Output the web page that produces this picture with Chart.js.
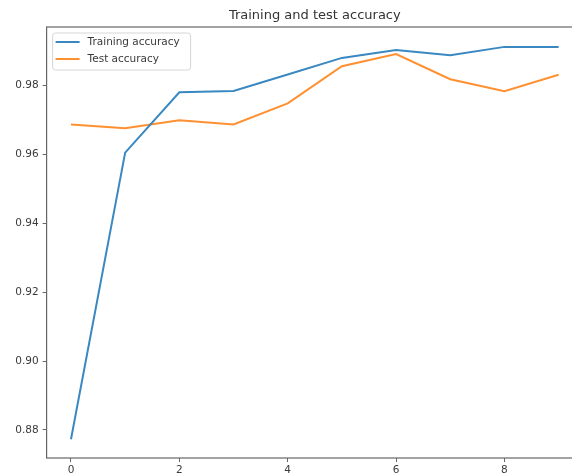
<!DOCTYPE html>
<html>
<head>
<meta charset="utf-8">
<script src="https://cdn.jsdelivr.net/npm/chart.js@4.4.1/dist/chart.umd.min.js"></script>
<style>
    body { margin: 0; background: #fff; }
    #wrap { width: 572px; height: 476px; overflow: hidden; }
</style>
</head>
<body>
<div id="wrap"><canvas id="myChart" width="600" height="476"></canvas></div>
<script>
const epochs = [0, 1, 2, 3, 4, 5, 6, 7, 8, 9];
const trainAcc = [0.8773, 0.9605, 0.9780, 0.9784, 0.9832, 0.9880, 0.9903, 0.9888, 0.9912, 0.9912];
const testAcc = [0.9687, 0.9676, 0.9699, 0.9687, 0.9748, 0.9856, 0.9891, 0.9818, 0.9783, 0.9831];
const xTicks = [0, 2, 4, 6, 8];
const yTicks = [0.88, 0.90, 0.92, 0.94, 0.96, 0.98];
const seriesNames = ['Training accuracy', 'Test accuracy'];
const seriesColors = ['#3a88c2', '#ff9030'];

const tickFont = { family: 'DejaVu Sans', size: 10.5 };

// frame + legend drawn like matplotlib
const framePlugin = {
    id: 'frame',
    afterDraw(chart) {
        const c = chart.ctx;
        const a = chart.chartArea;
        c.save();
        c.strokeStyle = '#666';
        c.lineWidth = 1.2;
        c.strokeRect(a.left, a.top, a.right - a.left, a.bottom - a.top);

        // legend box
        const lx = a.left + 6, ly = a.top + 6, lw = 138, lh = 37;
        c.beginPath();
        c.roundRect(lx, ly, lw, lh, 3);
        c.fillStyle = 'rgba(255,255,255,0.8)';
        c.fill();
        c.strokeStyle = '#d6d6d6';
        c.lineWidth = 1;
        c.stroke();
        c.font = '10.5px "DejaVu Sans"';
        c.textBaseline = 'middle';
        chart.data.datasets.forEach((ds, i) => {
            const y = ly + 9 + i * 17;
            c.beginPath();
            c.moveTo(lx + 3, y);
            c.lineTo(lx + 27, y);
            c.strokeStyle = ds.borderColor;
            c.lineWidth = 2;
            c.stroke();
            c.fillStyle = '#3a3a3a';
            c.fillText(ds.label, lx + 35, y);
        });
        c.restore();
    }
};

const ctx = document.getElementById('myChart').getContext('2d');
const myChart = new Chart(ctx, {
    type: 'line',
    data: {
        datasets: [{
            label: seriesNames[0],
            data: epochs.map((e, i) => ({ x: e, y: trainAcc[i] })),
            borderColor: seriesColors[0],
            borderWidth: 2,
            pointRadius: 0,
            tension: 0
        }, {
            label: seriesNames[1],
            data: epochs.map((e, i) => ({ x: e, y: testAcc[i] })),
            borderColor: seriesColors[1],
            borderWidth: 2,
            pointRadius: 0,
            tension: 0
        }]
    },
    options: {
        responsive: false,
        animation: false,
        layout: { padding: { left: 0, right: 17, top: 0, bottom: 0 } },
        plugins: {
            legend: { display: false },
            tooltip: { enabled: false },
            title: {
                display: true,
                text: 'Training and test accuracy',
                fullSize: false,
                color: '#333',
                font: { family: 'DejaVu Sans', size: 13, weight: 'normal' },
                padding: { top: 8, bottom: 3.4 }
            }
        },
        scales: {
            x: {
                type: 'linear',
                min: -0.45,
                max: 9.45,
                afterBuildTicks: (scale) => { scale.ticks = xTicks.map(v => ({ value: v })); },
                afterFit: (scale) => { scale.height = 18; },
                grid: { display: true, drawOnChartArea: false, drawTicks: true, tickLength: 4, color: '#666' },
                border: { display: false },
                ticks: { color: '#3a3a3a', font: tickFont, padding: 2, maxRotation: 0 }
            },
            y: {
                type: 'linear',
                min: 0.87185,
                max: 0.99697,
                afterBuildTicks: (scale) => { scale.ticks = yTicks.map(v => ({ value: v })); },
                afterFit: (scale) => { scale.width = 46.6; },
                grid: { display: true, drawOnChartArea: false, drawTicks: true, tickLength: 4, color: '#666' },
                border: { display: false },
                ticks: { color: '#3a3a3a', font: tickFont, padding: 4, callback: (v) => Number(v).toFixed(2) }
            }
        }
    },
    plugins: [framePlugin]
});
</script>
</body>
</html>
